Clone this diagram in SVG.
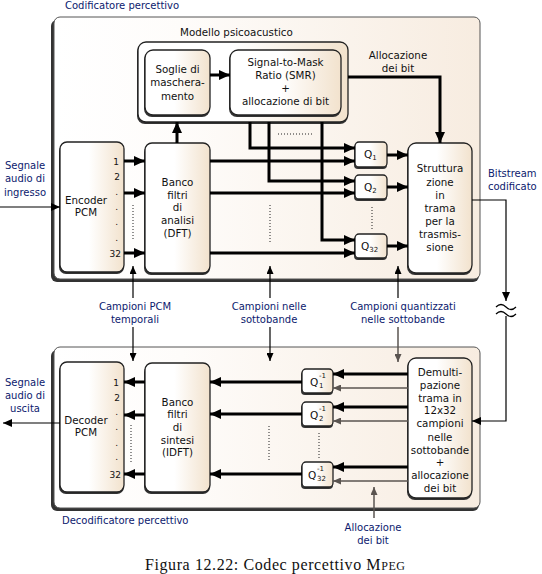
<svg xmlns="http://www.w3.org/2000/svg" width="542" height="574" viewBox="0 0 542 574">
<defs>
<linearGradient id="gIn" x1="0" y1="0" x2="1" y2="0">
<stop offset="0" stop-color="#ffffff"/><stop offset="0.45" stop-color="#ffffff"/><stop offset="1" stop-color="#f2e2cd"/>
</linearGradient>
<linearGradient id="gOut" x1="0" y1="0" x2="1" y2="0">
<stop offset="0" stop-color="#ffffff"/><stop offset="0.3" stop-color="#fefcfa"/><stop offset="1" stop-color="#f7ece0"/>
</linearGradient>
<marker id="ah" markerUnits="userSpaceOnUse" markerWidth="12" markerHeight="10" refX="11" refY="5" orient="auto"><path d="M0,0 L11,5 L0,10 z" fill="#000"/></marker>
<marker id="am" markerUnits="userSpaceOnUse" markerWidth="10" markerHeight="8" refX="9" refY="4" orient="auto"><path d="M0,0 L9,4 L0,8 z" fill="#000"/></marker>
<marker id="as" markerUnits="userSpaceOnUse" markerWidth="8" markerHeight="7" refX="8" refY="3.5" orient="auto"><path d="M0,0 L8,3.5 L0,7 z" fill="#000"/></marker>
<marker id="ag" markerUnits="userSpaceOnUse" markerWidth="8" markerHeight="7" refX="8" refY="3.5" orient="auto"><path d="M0,0 L8,3.5 L0,7 z" fill="#5a5450"/></marker>
</defs>
<style>
text{font-family:"DejaVu Sans",Verdana,sans-serif;}
text.cap{font-family:"Liberation Serif","Times New Roman",serif;font-size:16px;fill:#111;}
.bx{fill:url(#gIn);stroke:#222;stroke-width:1.3;}
.sh{fill:#333;}
.ob{fill:url(#gOut);stroke:#555;stroke-width:1;}
.t{font-size:10.3px;fill:#111;text-anchor:middle;}
.n{font-size:9px;fill:#111;text-anchor:end;}
.lb{font-size:10px;fill:#0c1a6e;text-anchor:middle;}
.ls{font-size:10px;fill:#0c1a6e;}
.q{font-size:10.5px;fill:#111;}
.thk{stroke:#000;stroke-width:3;fill:none;}
.thn{stroke:#000;stroke-width:1.2;fill:none;}
.gr{stroke:#5a5450;stroke-width:1.5;fill:none;}
.dot{stroke:#222;stroke-width:1;stroke-dasharray:1,2;fill:none;}
</style>

<g id="encoder">
<rect x="51" y="20" width="428" height="262" rx="6" class="sh"/>
<rect x="54" y="17" width="426" height="262" rx="6" class="ob"/>
<text x="65" y="9" class="ls">Codificatore percettivo</text>
</g>
<g id="decoder">
<rect x="51" y="350" width="428" height="161" rx="6" class="sh"/>
<rect x="54" y="347" width="426" height="161" rx="6" class="ob"/>
<text x="62" y="524" class="ls">Decodificatore percettivo</text>
</g>

<g id="modello">
<rect x="137" y="44" width="211" height="80" rx="8" class="sh"/>
<rect x="138" y="42" width="210" height="80" rx="8" class="bx" stroke-width="1.5"/>
<text x="180" y="36" font-size="10.3" fill="#111">Modello psicoacustico</text>
</g>
<g id="soglie">
<rect x="144" y="52" width="66" height="65" rx="8" class="sh"/>
<rect x="145" y="50" width="65" height="65" rx="8" class="bx"/>
<text class="t" x="177.5" y="73">Soglie di</text>
<text class="t" x="177.5" y="86">maschera-</text>
<text class="t" x="177.5" y="100">mento</text>
</g>
<g id="smr">
<rect x="229" y="52" width="112" height="65" rx="8" class="sh"/>
<rect x="230" y="50" width="111" height="65" rx="8" class="bx"/>
<text class="t" x="285.5" y="66">Signal-to-Mask</text>
<text class="t" x="285.5" y="79">Ratio (SMR)</text>
<text class="t" x="285.5" y="92">+</text>
<text class="t" x="285.5" y="105">allocazione di bit</text>
</g>
<g id="encpcm">
<rect x="59" y="144" width="65" height="130" rx="7" class="sh"/>
<rect x="60" y="142" width="64" height="130" rx="7" class="bx"/>
<text class="t" x="86" y="204">Encoder</text>
<text class="t" x="86" y="216">PCM</text>
<text class="n" x="119" y="165">1</text>
<text class="n" x="120" y="180">2</text>
<text class="n" x="118" y="195">.</text>
<text class="n" x="118" y="210">.</text>
<text class="n" x="118" y="225">.</text>
<text class="n" x="118" y="241">.</text>
<text class="n" x="121" y="257">32</text>
</g>
<g id="analisi">
<rect x="144" y="145" width="66" height="130" rx="7" class="sh"/>
<rect x="145" y="143" width="65" height="130" rx="7" class="bx"/>
<text class="t" x="177.5" y="186">Banco</text>
<text class="t" x="177.5" y="199">filtri</text>
<text class="t" x="177.5" y="211">di</text>
<text class="t" x="177.5" y="224">analisi</text>
<text class="t" x="177.5" y="237">(DFT)</text>
</g>
<g id="q1">
<rect x="354" y="144" width="33" height="25" rx="4" class="sh"/>
<rect x="355" y="142" width="32" height="25" rx="4" class="bx"/>
<text class="q" x="364" y="158">Q<tspan font-size="7" dy="2">1</tspan></text>
</g>
<g id="q2">
<rect x="354" y="177" width="33" height="24" rx="4" class="sh"/>
<rect x="355" y="175" width="32" height="24" rx="4" class="bx"/>
<text class="q" x="364" y="191">Q<tspan font-size="7" dy="2">2</tspan></text>
</g>
<g id="q32">
<rect x="354" y="236" width="33" height="24" rx="4" class="sh"/>
<rect x="355" y="234" width="32" height="24" rx="4" class="bx"/>
<text class="q" x="361" y="250">Q<tspan font-size="7" dy="2">32</tspan></text>
</g>
<g id="struttura">
<rect x="407" y="145" width="65" height="130" rx="8" class="sh"/>
<rect x="408" y="143" width="64" height="130" rx="8" class="bx"/>
<text class="t" x="440" y="172">Struttura</text>
<text class="t" x="440" y="186">zione</text>
<text class="t" x="440" y="199">in</text>
<text class="t" x="440" y="212">trama</text>
<text class="t" x="440" y="225">per la</text>
<text class="t" x="440" y="238">trasmis-</text>
<text class="t" x="440" y="251">sione</text>
</g>

<g id="decpcm">
<rect x="59" y="364" width="65" height="130" rx="7" class="sh"/>
<rect x="60" y="362" width="64" height="130" rx="7" class="bx"/>
<text class="t" x="86" y="424">Decoder</text>
<text class="t" x="86" y="436">PCM</text>
<text class="n" x="119" y="386">1</text>
<text class="n" x="120" y="401">2</text>
<text class="n" x="118" y="415">.</text>
<text class="n" x="118" y="430">.</text>
<text class="n" x="118" y="446">.</text>
<text class="n" x="118" y="460">.</text>
<text class="n" x="121" y="478">32</text>
</g>
<g id="sintesi">
<rect x="144" y="365" width="66" height="129" rx="7" class="sh"/>
<rect x="145" y="363" width="65" height="129" rx="7" class="bx"/>
<text class="t" x="177.5" y="406">Banco</text>
<text class="t" x="177.5" y="418">filtri</text>
<text class="t" x="177.5" y="431">di</text>
<text class="t" x="177.5" y="444">sintesi</text>
<text class="t" x="177.5" y="456">(IDFT)</text>
</g>
<g id="qi1">
<rect x="301" y="371" width="32" height="24" rx="4" class="sh"/>
<rect x="302" y="369" width="31" height="24" rx="4" class="bx"/>
<text class="q" x="310" y="386">Q<tspan font-size="7" x="319" y="378">-1</tspan><tspan font-size="7" x="319" y="388">1</tspan></text>
</g>
<g id="qi2">
<rect x="301" y="404" width="32" height="24" rx="4" class="sh"/>
<rect x="302" y="402" width="31" height="24" rx="4" class="bx"/>
<text class="q" x="310" y="419">Q<tspan font-size="7" x="319" y="411">-1</tspan><tspan font-size="7" x="319" y="421">2</tspan></text>
</g>
<g id="qi32">
<rect x="301" y="464" width="32" height="25" rx="4" class="sh"/>
<rect x="302" y="462" width="31" height="25" rx="4" class="bx"/>
<text class="q" x="308" y="479">Q<tspan font-size="7" x="317" y="471">-1</tspan><tspan font-size="7" x="317" y="481">32</tspan></text>
</g>
<g id="demulti">
<rect x="407" y="360" width="65" height="140" rx="8" class="sh"/>
<rect x="408" y="358" width="64" height="140" rx="8" class="bx"/>
<text class="t" x="440" y="376">Demulti-</text>
<text class="t" x="440" y="389">pazione</text>
<text class="t" x="440" y="402">trama in</text>
<text class="t" x="440" y="414">12x32</text>
<text class="t" x="440" y="427">campioni</text>
<text class="t" x="440" y="441">nelle</text>
<text class="t" x="440" y="454">sottobande</text>
<text class="t" x="440" y="466">+</text>
<text class="t" x="440" y="479">allocazione</text>
<text class="t" x="440" y="492">dei bit</text>
</g>

<g id="labels">
<text class="t" x="398" y="59">Allocazione</text>
<text class="t" x="398" y="72">dei bit</text>
<text class="ls" x="488" y="177">Bitstream</text>
<text class="ls" x="488" y="190">codificato</text>
<text class="lb" x="25" y="169">Segnale</text>
<text class="lb" x="25" y="182">audio di</text>
<text class="lb" x="25" y="196">ingresso</text>
<text class="lb" x="25" y="386">Segnale</text>
<text class="lb" x="25" y="399">audio di</text>
<text class="lb" x="25" y="412">uscita</text>
<text class="lb" x="135" y="310">Campioni PCM</text>
<text class="lb" x="135" y="323">temporali</text>
<text class="lb" x="269" y="310">Campioni nelle</text>
<text class="lb" x="269" y="323">sottobande</text>
<text class="lb" x="403" y="310">Campioni quantizzati</text>
<text class="lb" x="403" y="323">nelle sottobande</text>
<text class="lb" x="373" y="531">Allocazione</text>
<text class="lb" x="373" y="544">dei bit</text>
<text class="cap" x="145" y="570" textLength="260" lengthAdjust="spacing">Figura 12.22: Codec percettivo M<tspan font-size="12">PEG</tspan></text>
</g>

<g id="connectors">
<path class="thk" d="M210,75 H230" marker-end="url(#ah)"/>
<path class="thk" d="M177,143 V122" marker-end="url(#ah)"/>
<path class="thk" d="M348,77 H440 V143" marker-end="url(#ah)"/>
<path class="thn" d="M0,207 H60" marker-end="url(#am)"/>
<path class="thk" d="M124,161 H145" marker-end="url(#ah)"/>
<path class="thk" d="M124,193 H145" marker-end="url(#ah)"/>
<path class="thk" d="M124,253 H145" marker-end="url(#ah)"/>
<path class="thk" d="M210,161 H355" marker-end="url(#ah)"/>
<path class="thk" d="M210,193 H355" marker-end="url(#ah)"/>
<path class="thk" d="M210,253 H355" marker-end="url(#ah)"/>
<path class="thk" d="M250,122 V148 H355" marker-end="url(#ah)"/>
<path class="thk" d="M269,122 V181 H355" marker-end="url(#ah)"/>
<path class="thk" d="M322,122 V240 H355" marker-end="url(#ah)"/>
<path class="thk" d="M387,155 H408" marker-end="url(#ah)"/>
<path class="thk" d="M387,187 H408" marker-end="url(#ah)"/>
<path class="thk" d="M387,246 H408" marker-end="url(#ah)"/>
<path class="thn" d="M472,200 H506 V301" marker-end="url(#am)"/>
<path class="thn" d="M496,307 q5,-5 10,0 t10,0 M496,314 q5,-5 10,0 t10,0"/>
<path class="thn" d="M506,316 V421 H472" marker-end="url(#am)"/>
<path class="dot" d="M278,134 H314"/>
<path class="dot" d="M133,205 V240"/>
<path class="dot" d="M270,205 V242"/>
<path class="dot" d="M372,207 V229"/>
<path class="thn" d="M133,298 V266" marker-end="url(#as)"/>
<path class="thn" d="M133,327 V361" marker-end="url(#as)"/>
<path class="thn" d="M270,298 V266" marker-end="url(#as)"/>
<path class="thn" d="M270,327 V361" marker-end="url(#as)"/>
<path class="thn" d="M398,298 V266" marker-end="url(#as)"/>
<path class="gr" d="M398,327 V362" marker-end="url(#ag)"/>
<path class="thk" d="M408,374 H333" marker-end="url(#ah)"/>
<path class="gr" d="M408,388 H333" marker-end="url(#ag)"/>
<path class="thk" d="M408,407 H333" marker-end="url(#ah)"/>
<path class="gr" d="M408,421 H333" marker-end="url(#ag)"/>
<path class="thk" d="M408,467 H333" marker-end="url(#ah)"/>
<path class="gr" d="M408,481 H333" marker-end="url(#ag)"/>
<path class="thk" d="M302,382 H210" marker-end="url(#ah)"/>
<path class="thk" d="M302,414 H210" marker-end="url(#ah)"/>
<path class="thk" d="M302,474 H210" marker-end="url(#ah)"/>
<path class="thk" d="M145,382 H124" marker-end="url(#ah)"/>
<path class="thk" d="M145,415 H124" marker-end="url(#ah)"/>
<path class="thk" d="M145,474 H124" marker-end="url(#ah)"/>
<path class="thn" d="M60,423 H3" marker-end="url(#am)"/>
<path class="gr" d="M374,518 V487" marker-end="url(#ag)"/>
<path class="dot" d="M131,425 V464"/>
<path class="dot" d="M269,426 V462"/>
<path class="dot" d="M319,433 V458"/>
</g>
</svg>
